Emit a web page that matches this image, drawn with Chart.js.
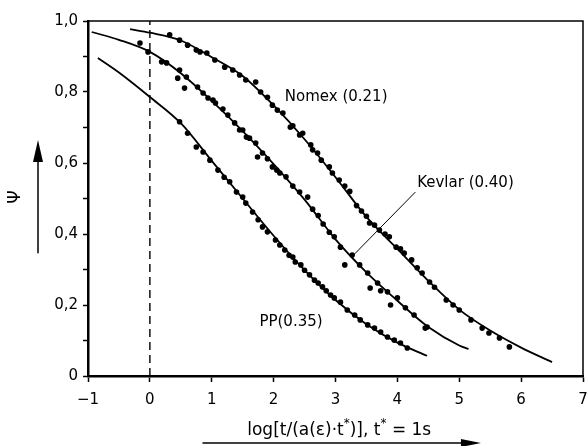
<!DOCTYPE html>
<html><head><meta charset="utf-8">
<script src="https://cdn.jsdelivr.net/npm/chart.js@4/dist/chart.umd.min.js"></script>
<style>html,body{margin:0;padding:0;background:#fff}</style>
</head><body><canvas id="c" width="587" height="446"></canvas>
<script>
// ---- Data ----
const xTicks = [-1, 0, 1, 2, 3, 4, 5, 6, 7];
const yTickLabels = ["0", "0,2", "0,4", "0,6", "0,8", "1,0"];

const nomexCurveX = [-0.32, 0, 0.5, 1, 1.5, 2, 2.5, 3, 3.5, 4, 4.5, 5, 5.5, 6, 6.5];
const nomexCurveY = [0.977, 0.967, 0.945, 0.898, 0.845, 0.762, 0.667, 0.560, 0.448, 0.358, 0.268, 0.187, 0.128, 0.080, 0.039];
const kevlarCurveX = [-0.94, -0.5, 0, 0.5, 1, 1.5, 2, 2.5, 3, 3.5, 4, 4.5, 5, 5.15];
const kevlarCurveY = [0.969, 0.947, 0.913, 0.853, 0.775, 0.690, 0.597, 0.497, 0.385, 0.292, 0.212, 0.138, 0.086, 0.076];
const ppCurveX = [-0.84, -0.5, 0, 0.5, 1, 1.5, 2, 2.5, 3, 3.5, 4, 4.48];
const ppCurveY = [0.896, 0.855, 0.786, 0.712, 0.606, 0.500, 0.395, 0.298, 0.214, 0.146, 0.094, 0.057];

const nomexPtsX = [0.32,0.48,0.61,0.75,0.81,0.92,1.05,1.21,1.34,1.45,1.55,1.71,1.79,1.90,1.98,2.06,2.15,2.27,2.31,2.42,2.47,2.60,2.63,2.71,2.77,2.90,2.95,3.06,3.15,3.23,3.34,3.42,3.50,3.55,3.63,3.71,3.80,3.87,3.98,4.05,4.11,4.23,4.32,4.40,4.52,4.60,4.79,4.90,5.00,5.19,5.37,5.48,5.65,5.81];
const nomexPtsY = [0.961,0.946,0.932,0.918,0.913,0.910,0.890,0.870,0.862,0.848,0.834,0.828,0.800,0.785,0.763,0.749,0.741,0.701,0.705,0.679,0.684,0.651,0.637,0.628,0.608,0.589,0.572,0.552,0.535,0.520,0.480,0.465,0.450,0.431,0.425,0.411,0.400,0.392,0.363,0.358,0.346,0.327,0.305,0.290,0.265,0.250,0.214,0.200,0.186,0.158,0.135,0.121,0.107,0.082];
const kevlarPtsX = [-0.16,-0.03,0.19,0.27,0.45,0.48,0.56,0.59,0.77,0.86,0.94,1.02,1.06,1.18,1.26,1.37,1.45,1.50,1.56,1.61,1.71,1.74,1.82,1.90,1.98,2.05,2.10,2.20,2.31,2.42,2.55,2.63,2.72,2.80,2.90,2.98,3.08,3.15,3.27,3.39,3.52,3.56,3.68,3.73,3.84,3.89,4.00,4.13,4.27,4.45,4.48];
const kevlarPtsY = [0.938,0.913,0.885,0.882,0.839,0.862,0.811,0.842,0.814,0.797,0.783,0.777,0.769,0.752,0.735,0.713,0.693,0.693,0.673,0.670,0.656,0.617,0.628,0.612,0.589,0.580,0.572,0.561,0.535,0.518,0.504,0.470,0.452,0.428,0.405,0.392,0.363,0.313,0.341,0.313,0.290,0.248,0.262,0.240,0.237,0.200,0.220,0.192,0.172,0.135,0.138];
const ppPtsX = [0.48,0.61,0.75,0.86,0.97,1.10,1.20,1.29,1.40,1.50,1.55,1.66,1.75,1.82,1.90,2.03,2.10,2.18,2.25,2.31,2.35,2.44,2.50,2.58,2.66,2.72,2.79,2.85,2.92,2.98,3.08,3.19,3.31,3.40,3.52,3.63,3.73,3.84,3.95,4.05,4.16];
const ppPtsY = [0.716,0.684,0.645,0.631,0.608,0.580,0.560,0.547,0.518,0.504,0.487,0.462,0.440,0.420,0.406,0.383,0.369,0.355,0.340,0.335,0.321,0.313,0.298,0.285,0.270,0.262,0.251,0.240,0.228,0.220,0.208,0.186,0.172,0.158,0.144,0.135,0.124,0.110,0.101,0.093,0.079];

const refLineX = [0, 0];
const refLineY = [0, 1];
const leaderX = [4.29, 3.31];
const leaderY = [0.518, 0.344];

const labelTexts = ["Nomex (0.21)", "Kevlar (0.40)", "PP(0.35)"];
const labelX = [2.18, 4.32, 1.77];
const labelY = [0.786, 0.544, 0.152];

const yTitle = "\u03A8";
const xTitleParts = [["log[t/(a(\u03B5)\u00B7t", false], ["*", true], [")], t", false], ["*", true], [" = 1s", false]];

// ---- helpers ----
const zip = (xs, ys) => xs.map((x, i) => ({x, y: ys[i]}));
const FONT = "DejaVu Sans";

const lineDs = (xs, ys) => ({data: zip(xs, ys), showLine: true, pointRadius: 0, borderColor: '#000', borderWidth: 1.8, cubicInterpolationMode: 'monotone', fill: false});
const ptDs = (xs, ys) => ({data: zip(xs, ys), showLine: false, pointRadius: 2.8, pointBackgroundColor: '#000', pointBorderWidth: 0, borderColor: '#000'});

const decor = {
  id: 'decor',
  afterDraw(chart) {
    const {ctx, chartArea: a, scales: {x, y}} = chart;
    ctx.save();
    ctx.strokeStyle = '#000';
    ctx.fillStyle = '#000';
    // top & right frame
    ctx.lineWidth = 1.5;
    ctx.beginPath();
    ctx.moveTo(a.left, a.top); ctx.lineTo(a.right, a.top); ctx.lineTo(a.right, a.bottom);
    ctx.stroke();
    // curve labels
    ctx.font = `15px "${FONT}"`;
    ctx.textBaseline = 'middle';
    ctx.textAlign = 'left';
    labelTexts.forEach((t, i) => ctx.fillText(t, x.getPixelForValue(labelX[i]), y.getPixelForValue(labelY[i])));
    // y title + arrow
    ctx.save();
    ctx.font = `17px "${FONT}"`;
    ctx.translate(16, y.getPixelForValue(0.504));
    ctx.rotate(-Math.PI / 2);
    ctx.textAlign = 'center';
    ctx.fillText(yTitle, 0, 0);
    ctx.restore();
    const ax = 38, yb = y.getPixelForValue(0.346), yt = y.getPixelForValue(0.665);
    ctx.lineWidth = 1.5;
    ctx.beginPath(); ctx.moveTo(ax, yb); ctx.lineTo(ax, yt + 18); ctx.stroke();
    ctx.beginPath(); ctx.moveTo(ax, yt); ctx.lineTo(ax - 5, yt + 22); ctx.lineTo(ax + 5, yt + 22); ctx.closePath(); ctx.fill();
    // x title with superscripts
    ctx.textAlign = 'left';
    ctx.textBaseline = 'alphabetic';
    const base = `17px "${FONT}"`, sup = `12px "${FONT}"`;
    let w = 0;
    xTitleParts.forEach(([t, s]) => { ctx.font = s ? sup : base; w += ctx.measureText(t).width; });
    let cx = x.getPixelForValue(3.06) - w / 2;
    const by = a.bottom + 59;
    xTitleParts.forEach(([t, s]) => { ctx.font = s ? sup : base; ctx.fillText(t, cx, s ? by - 8 : by); cx += ctx.measureText(t).width; });
    // x arrow
    const x0 = x.getPixelForValue(0.85), x1 = x.getPixelForValue(5.35), ay = a.bottom + 67;
    ctx.beginPath(); ctx.moveTo(x0, ay); ctx.lineTo(x1 - 16, ay); ctx.stroke();
    ctx.beginPath(); ctx.moveTo(x1, ay); ctx.lineTo(x1 - 20, ay - 4); ctx.lineTo(x1 - 20, ay + 4); ctx.closePath(); ctx.fill();
    ctx.restore();
  }
};

new Chart(document.getElementById('c'), {
  type: 'scatter',
  data: {
    datasets: [
      lineDs(nomexCurveX, nomexCurveY),
      lineDs(kevlarCurveX, kevlarCurveY),
      lineDs(ppCurveX, ppCurveY),
      ptDs(nomexPtsX, nomexPtsY),
      ptDs(kevlarPtsX, kevlarPtsY),
      ptDs(ppPtsX, ppPtsY),
      {data: zip(refLineX, refLineY), showLine: true, pointRadius: 0, borderColor: '#000', borderWidth: 1.4, borderDash: [8, 5]},
      {data: zip(leaderX, leaderY), showLine: true, pointRadius: 0, borderColor: '#000', borderWidth: 1}
    ]
  },
  options: {
    responsive: false,
    devicePixelRatio: 1,
    animation: false,
    layout: {padding: {top: 21, right: 3, left: 0, bottom: 0}},
    plugins: {legend: {display: false}, tooltip: {enabled: false}},
    scales: {
      x: {
        type: 'linear', min: xTicks[0], max: xTicks[xTicks.length - 1],
        afterBuildTicks: s => { s.ticks = xTicks.map(v => ({value: v})); },
        ticks: {color: '#000', font: {family: FONT, size: 15}, padding: 9, maxRotation: 0,
          callback: v => v < 0 ? '\u2212' + Math.abs(v) : String(v)},
        grid: {drawOnChartArea: false, drawTicks: true, tickLength: 6, tickColor: '#000', tickWidth: 1.5},
        border: {display: true, color: '#000', width: 2.5},
        afterFit: s => { s.height = 70; s.paddingRight = 0; s.paddingLeft = 0; }
      },
      y: {
        min: 0, max: 1,
        ticks: {stepSize: 0.1, color: '#000', font: {family: FONT, size: 15}, padding: 5,
          callback: (v) => { const k = Math.round(v * 10); return k % 2 === 0 ? yTickLabels[k / 2] : ''; }},
        grid: {drawOnChartArea: false, drawTicks: true, tickLength: 5, tickColor: '#000', tickWidth: 1.5},
        border: {display: true, color: '#000', width: 2.5},
        afterFit: s => { s.width = 88; s.paddingTop = 0; s.paddingBottom = 0; }
      }
    }
  },
  plugins: [decor]
});
</script></body></html>
